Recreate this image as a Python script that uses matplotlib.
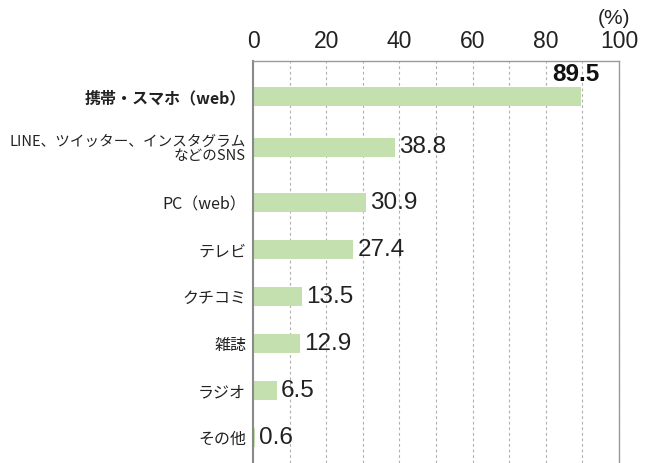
import numpy as np
import matplotlib
matplotlib.use('Agg')
import matplotlib.pyplot as plt

# === data ===
categories = ['携帯・スマホ（web）', 'LINE、ツイッター、インスタグラム\nなどのSNS', 'PC（web）',
              'テレビ', 'クチコミ', '雑誌', 'ラジオ', 'その他']
values = [89.5, 38.8, 30.9, 27.4, 13.5, 12.9, 6.5, 0.6]
xticks = [0, 20, 40, 60, 80, 100]

jp_font = ['Noto Sans CJK JP', 'DejaVu Sans']
num_font = ['Liberation Sans Narrow', 'Liberation Sans', 'DejaVu Sans']
bar_color = '#c4e0ae'

# row spacing (the two-line label gets a little more room)
gaps = [1.08, 1.18, 1, 1, 1, 1, 1]
ypos = np.concatenate([[0], np.cumsum(gaps)])

fig = plt.figure(figsize=(6.48, 4.63), dpi=100)
ax = fig.add_axes([253 / 648, 0, (619 - 253) / 648, (463 - 61) / 463])

ax.barh(ypos, values, height=0.4, color=bar_color, zorder=2)

ax.set_xlim(0, 100)
ax.set_ylim(7.80, -0.755)

# grid every 10, labels every 20
ax.set_xticks(xticks)
ax.set_xticks(range(0, 101, 10), minor=True)
ax.grid(axis='x', which='both', linestyle=(0, (2.5, 2.5)), color='#b0b0b0', linewidth=0.8, zorder=0)
ax.xaxis.tick_top()
ax.tick_params(axis='x', which='both', length=0, pad=6)
ax.set_xticklabels([str(t) for t in xticks], fontsize=16.5, family=num_font, color='#222222')

ax.set_yticks(ypos)
ax.set_yticklabels(categories, family=jp_font, fontsize=11.5, color='#222222', linespacing=1.05)
ylabels = ax.get_yticklabels()
ylabels[0].set_fontweight('bold')
ylabels[1].set_fontsize(10.5)
ax.tick_params(axis='y', length=0, pad=5)

for side in ['top', 'right']:
    ax.spines[side].set_color('#9a9a9a')
    ax.spines[side].set_linewidth(1.0)
ax.spines['left'].set_color('#8a8a8a')
ax.spines['left'].set_linewidth(1.5)
ax.spines['bottom'].set_visible(False)

# value labels
for i, (y, v) in enumerate(zip(ypos, values)):
    if i == 0:
        ax.text(v + 5.3, y - 0.46, f'{v:.1f}', ha='right', va='center', fontsize=17.5,
                fontweight='bold', family=num_font, color='#111111')
    else:
        ax.annotate(f'{v:.1f}', (v, y), xytext=(3, 0), textcoords='offset points',
                    ha='left', va='center', fontsize=17.5, family=num_font, color='#222222')

fig.text(614 / 648, 1 - 19 / 463, '(%)', ha='center', va='center', fontsize=15,
         family=num_font, color='#222222')

fig.savefig('out.png', dpi=100)
